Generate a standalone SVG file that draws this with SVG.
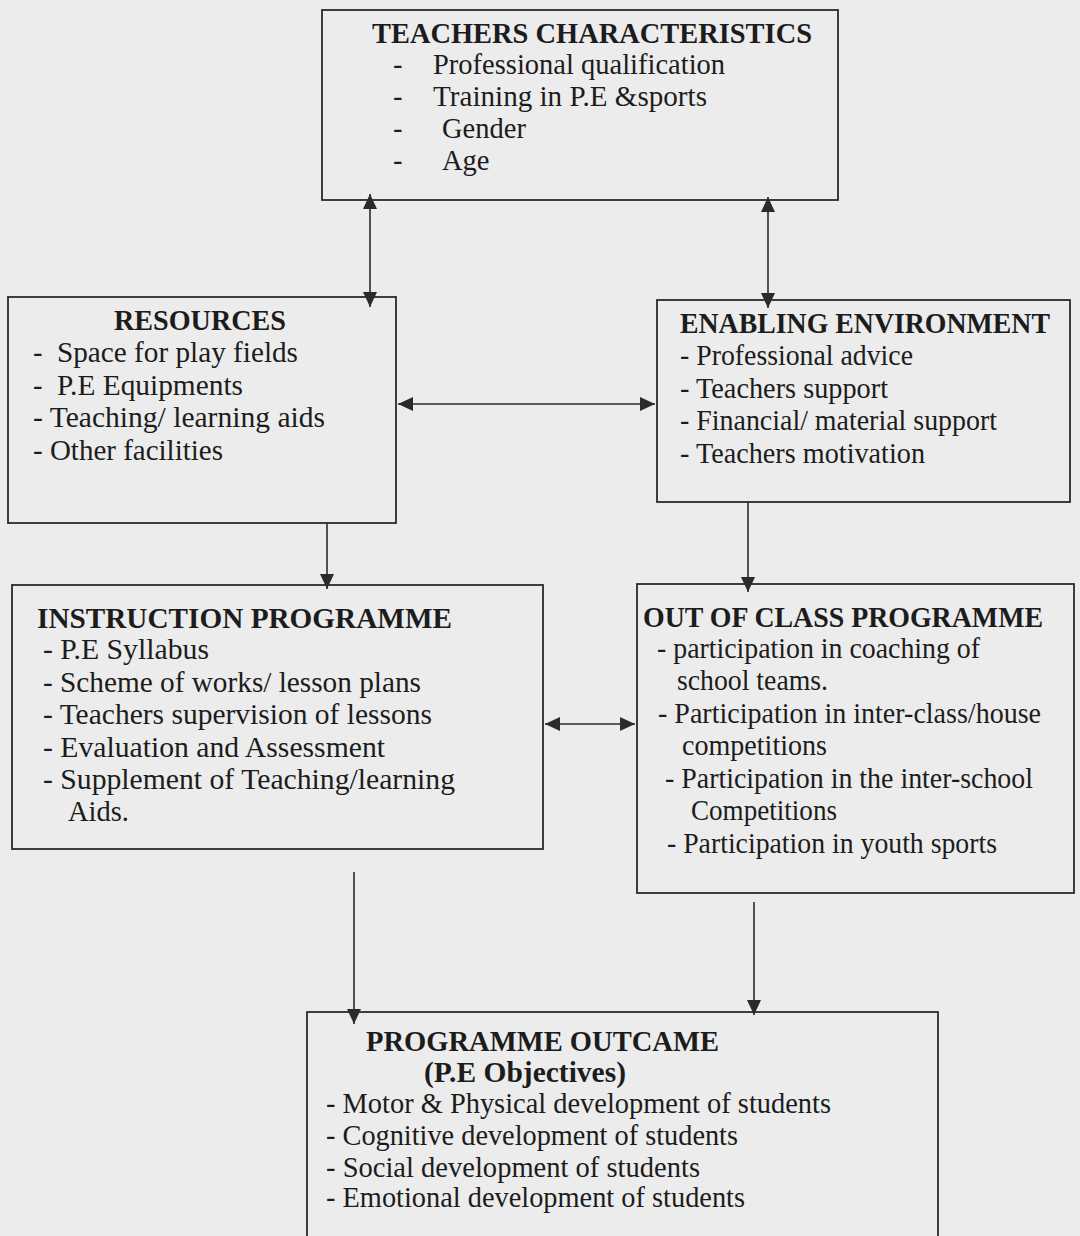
<svg xmlns="http://www.w3.org/2000/svg" width="1080" height="1236" viewBox="0 0 1080 1236">
<style>
.bg{fill:#ececec}
.box{fill:none;stroke:#2b2b2b;stroke-width:1.8}
.t{font-family:"Liberation Serif","Times New Roman",serif;font-size:28.5px;fill:#1c1c1c}
.b{font-weight:bold}
.c{fill:none;stroke:#2b2b2b;stroke-width:1.6;marker-end:url(#ah)}
.two{marker-start:url(#ah)}
</style>
<defs>
<marker id="ah" viewBox="0 0 15 14" refX="15" refY="7" markerWidth="15" markerHeight="14" markerUnits="userSpaceOnUse" orient="auto-start-reverse">
<path d="M0,0 L15,7 L0,14 z" fill="#2b2b2b"/>
</marker>
</defs>
<rect class="bg" x="0" y="0" width="1080" height="1236"/>

<g id="teachers">
<rect class="box" x="322" y="10" width="516" height="190"/>
<text class="t b" x="372" y="43" textLength="440" lengthAdjust="spacingAndGlyphs">TEACHERS CHARACTERISTICS</text>
<text class="t" x="393" y="74">-</text><text class="t" x="433" y="74">Professional qualification</text>
<text class="t" x="393" y="106">-</text><text class="t" x="433" y="106" textLength="274" lengthAdjust="spacingAndGlyphs">Training in P.E &amp;sports</text>
<text class="t" x="393" y="138">-</text><text class="t" x="442" y="138">Gender</text>
<text class="t" x="393" y="170">-</text><text class="t" x="442" y="170">Age</text>
</g>

<g id="resources">
<rect class="box" x="8" y="297" width="388" height="226"/>
<text class="t b" x="114" y="330" textLength="172" lengthAdjust="spacingAndGlyphs">RESOURCES</text>
<text class="t" x="33" y="362">-</text><text class="t" x="57" y="362" textLength="241" lengthAdjust="spacingAndGlyphs">Space for play fields</text>
<text class="t" x="33" y="395">-</text><text class="t" x="57" y="395" textLength="186" lengthAdjust="spacingAndGlyphs">P.E Equipments</text>
<text class="t" x="33" y="427" textLength="292" lengthAdjust="spacingAndGlyphs">- Teaching/ learning aids</text>
<text class="t" x="33" y="460" textLength="190" lengthAdjust="spacingAndGlyphs">- Other facilities</text>
</g>

<g id="enabling">
<rect class="box" x="657" y="300" width="413" height="202"/>
<text class="t b" x="680" y="333" textLength="370" lengthAdjust="spacingAndGlyphs">ENABLING ENVIRONMENT</text>
<text class="t" x="680" y="365" textLength="233" lengthAdjust="spacingAndGlyphs">- Professional advice</text>
<text class="t" x="680" y="398" textLength="208" lengthAdjust="spacingAndGlyphs">- Teachers support</text>
<text class="t" x="680" y="430" textLength="317" lengthAdjust="spacingAndGlyphs">- Financial/ material support</text>
<text class="t" x="680" y="463" textLength="245" lengthAdjust="spacingAndGlyphs">- Teachers motivation</text>
</g>

<g id="instruction">
<rect class="box" x="12" y="585" width="531" height="264"/>
<text class="t b" x="37" y="628" textLength="415" lengthAdjust="spacingAndGlyphs">INSTRUCTION PROGRAMME</text>
<text class="t" x="43" y="659" textLength="166" lengthAdjust="spacingAndGlyphs">- P.E Syllabus</text>
<text class="t" x="43" y="692" textLength="378" lengthAdjust="spacingAndGlyphs">- Scheme of works/ lesson plans</text>
<text class="t" x="43" y="724" textLength="389" lengthAdjust="spacingAndGlyphs">- Teachers supervision of lessons</text>
<text class="t" x="43" y="757" textLength="342" lengthAdjust="spacingAndGlyphs">- Evaluation and Assessment</text>
<text class="t" x="43" y="789" textLength="412" lengthAdjust="spacingAndGlyphs">- Supplement of Teaching/learning</text>
<text class="t" x="68" y="821">Aids.</text>
</g>

<g id="outofclass">
<rect class="box" x="637" y="584" width="437" height="309"/>
<text class="t b" x="643" y="627" textLength="400" lengthAdjust="spacingAndGlyphs">OUT OF CLASS PROGRAMME</text>
<text class="t" x="657" y="658" textLength="323" lengthAdjust="spacingAndGlyphs">- participation in coaching of</text>
<text class="t" x="677" y="690" textLength="151" lengthAdjust="spacingAndGlyphs">school teams.</text>
<text class="t" x="658" y="723" textLength="383" lengthAdjust="spacingAndGlyphs">- Participation in inter-class/house</text>
<text class="t" x="682" y="755" textLength="145" lengthAdjust="spacingAndGlyphs">competitions</text>
<text class="t" x="665" y="788" textLength="368" lengthAdjust="spacingAndGlyphs">- Participation in the inter-school</text>
<text class="t" x="691" y="820" textLength="146" lengthAdjust="spacingAndGlyphs">Competitions</text>
<text class="t" x="667" y="853" textLength="330" lengthAdjust="spacingAndGlyphs">- Participation in youth sports</text>
</g>

<g id="outcome">
<rect class="box" x="307" y="1012" width="631" height="240"/>
<text class="t b" x="366" y="1051" textLength="353" lengthAdjust="spacingAndGlyphs">PROGRAMME OUTCAME</text>
<text class="t b" x="424" y="1082" textLength="202" lengthAdjust="spacingAndGlyphs">(P.E Objectives)</text>
<text class="t" x="326" y="1113" textLength="505" lengthAdjust="spacingAndGlyphs">- Motor &amp; Physical development of students</text>
<text class="t" x="326" y="1145" textLength="412" lengthAdjust="spacingAndGlyphs">- Cognitive development of students</text>
<text class="t" x="326" y="1177" textLength="374" lengthAdjust="spacingAndGlyphs">- Social development of students</text>
<text class="t" x="326" y="1207" textLength="419" lengthAdjust="spacingAndGlyphs">- Emotional development of students</text>
</g>

<g id="connectors">
<line class="c two" x1="370" y1="194" x2="370" y2="307"/>
<line class="c two" x1="768" y1="197" x2="768" y2="308"/>
<line class="c two" x1="398" y1="404" x2="655" y2="404"/>
<line class="c" x1="327" y1="523" x2="327" y2="589"/>
<line class="c" x1="748" y1="502" x2="748" y2="592"/>
<line class="c two" x1="545" y1="724" x2="635" y2="724"/>
<line class="c" x1="354" y1="872" x2="354" y2="1024"/>
<line class="c" x1="754" y1="902" x2="754" y2="1015"/>
</g>
</svg>
